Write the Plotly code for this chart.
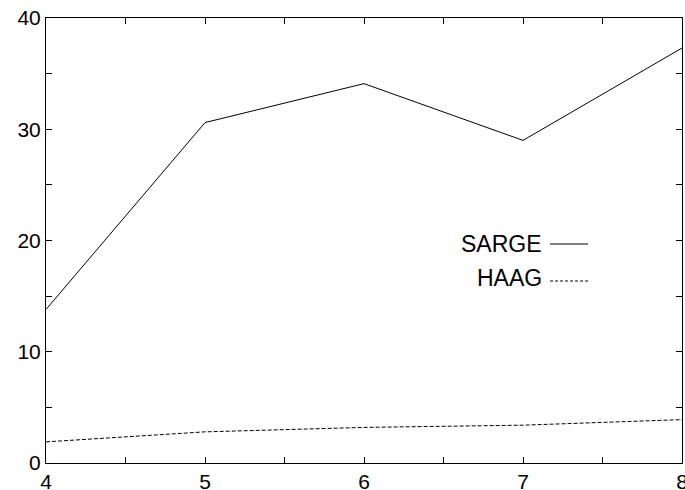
import plotly.graph_objects as go

x_vals = [4, 5, 6, 7, 8]
sarge = [13.8, 30.6, 34.1, 29.0, 37.3]
haag = [1.9, 2.8, 3.2, 3.4, 3.9]
series_names = ["SARGE", "HAAG"]

fig = go.Figure()
fig.add_trace(go.Scatter(x=x_vals, y=sarge, mode="lines", name=series_names[0],
                         line=dict(color="black", width=1), showlegend=False))
fig.add_trace(go.Scatter(x=x_vals, y=haag, mode="lines", name=series_names[1],
                         line=dict(color="black", width=1, dash="4px,2px"), showlegend=False))

fam = "Liberation Sans, Arial, sans-serif"
font = dict(family=fam, size=21, color="black")

# manual legend (text followed by line sample)
text_y = [0.4921, 0.4157]
line_y = [0.4921, 0.409]
dashes = ["solid", "3px,2px"]
for name, ty, ly, d in zip(series_names, text_y, line_y, dashes):
    fig.add_annotation(x=0.7830, y=ty, xref="paper", yref="paper", text=name,
                       showarrow=False, xanchor="right", yanchor="middle",
                       font=dict(family=fam, size=23, color="black"))
    fig.add_shape(type="line", xref="paper", yref="paper", x0=0.7926, x1=0.8523,
                  y0=ly, y1=ly, line=dict(color="black", width=1, dash=d))

axis_common = dict(showline=True, linecolor="black", linewidth=1, mirror="allticks",
                   ticks="inside", ticklen=6, tickcolor="black", tickwidth=1,
                   showgrid=False, zeroline=False, tickfont=font, automargin=False,
                   ticklabeloverflow="allow")

fig.update_xaxes(range=[4, 8], dtick=1, tick0=4,
                 minor=dict(ticks="inside", dtick=0.5, ticklen=6, tickcolor="black", showgrid=False),
                 **axis_common)
fig.update_yaxes(range=[0, 40], dtick=10, tick0=0,
                 minor=dict(ticks="inside", dtick=5, ticklen=6, tickcolor="black", showgrid=False),
                 **axis_common)

fig.update_layout(width=685, height=490, margin=dict(l=46, r=3, t=18, b=27, autoexpand=False),
                  plot_bgcolor="white", paper_bgcolor="white", font=font)

fig.write_html("out.html", config={"displayModeBar": False},
               post_script="document.body.style.margin='0';document.body.style.overflow='hidden';")
